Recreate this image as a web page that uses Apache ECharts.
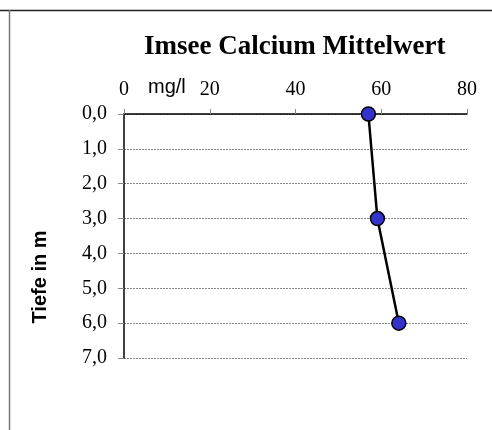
<!DOCTYPE html>
<html>
<head>
<meta charset="utf-8">
<script src="https://cdn.jsdelivr.net/npm/echarts@6/dist/echarts.min.js"></script>
<style>html,body{margin:0;padding:0;background:#fff}#c{width:492px;height:430px}</style>
</head>
<body>
<div id="c"></div>
<script>
var titleText = 'Imsee Calcium Mittelwert';
var xName = 'mg/l';
var yName = 'Tiefe in m';
var depths = [0, 3, 6];
var calcium = [57.0, 59.1, 64.1];

var chart = echarts.init(document.getElementById('c'));
var serif = '"Liberation Serif", "Times New Roman", serif';
var sans = '"Liberation Sans", Arial, sans-serif';
chart.setOption({
  animation: false,
  backgroundColor: '#fff',
  title: {
    text: titleText, left: 139, top: 29,
    textStyle: { fontFamily: serif, fontWeight: 'bold', fontSize: 27, color: '#000' }
  },
  grid: { left: 124, top: 114, right: 25, bottom: 72 },
  xAxis: {
    type: 'value', position: 'top', min: 0, max: 80, interval: 20,
    axisLine: { show: true, lineStyle: { color: '#000', width: 1.5 } },
    axisTick: { show: true, length: 5, lineStyle: { color: '#888' } },
    axisLabel: { fontFamily: serif, fontSize: 20, color: '#000', margin: 14 },
    splitLine: { show: false }
  },
  yAxis: {
    type: 'value', inverse: true, min: 0, max: 7, interval: 1,
    axisLine: { show: true, lineStyle: { color: '#000', width: 1.5 } },
    axisTick: { show: true, length: 6, lineStyle: { color: '#888' } },
    axisLabel: { fontFamily: serif, fontSize: 20, color: '#000', margin: 17,
      formatter: function (v) { return v.toFixed(1).replace('.', ','); } },
    splitLine: { show: true, lineStyle: { color: '#888', type: [2, 1], width: 1 } }
  },
  graphic: [
    { type: 'line', shape: { x1: 0, y1: 10.5, x2: 492, y2: 10.5 }, style: { stroke: '#222', lineWidth: 1.5 } },
    { type: 'line', shape: { x1: 9.5, y1: 10, x2: 9.5, y2: 430 }, style: { stroke: '#777', lineWidth: 1.5 } },
    { type: 'text', left: 148, top: 77, style: { text: xName, font: '20px ' + sans, fill: '#000' } },
    { type: 'text', x: 40, y: 277, rotation: Math.PI / 2,
      style: { text: yName, font: 'bold 20px ' + sans, fill: '#000', align: 'center', verticalAlign: 'middle' } }
  ],
  series: [{
    type: 'line',
    data: calcium.map(function (v, i) { return [v, depths[i]]; }),
    lineStyle: { color: '#000', width: 2.5 },
    symbol: 'circle', symbolSize: 14,
    itemStyle: { color: '#3333cc', borderColor: '#000', borderWidth: 1.5 }
  }]
});
</script>
</body>
</html>
